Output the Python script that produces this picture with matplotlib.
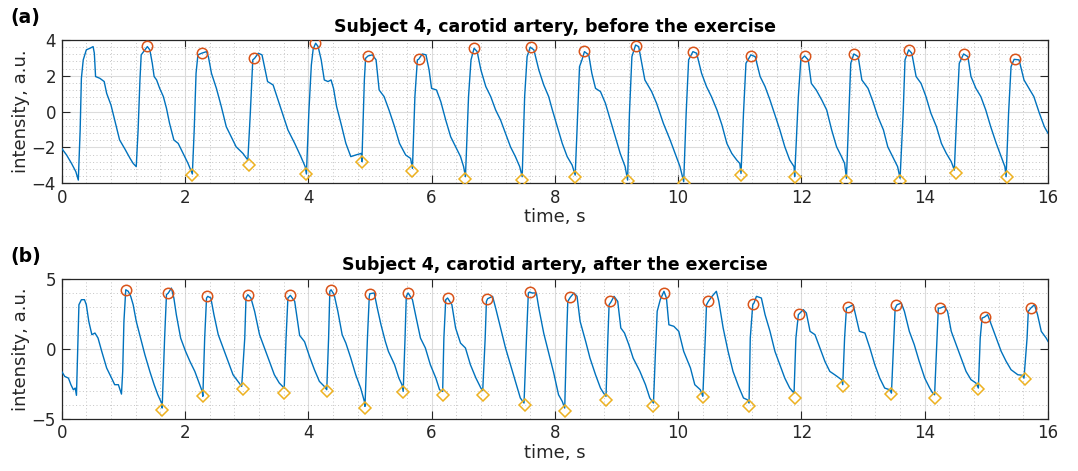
import matplotlib
matplotlib.use("Agg")
import matplotlib.pyplot as plt
from matplotlib.ticker import MultipleLocator

# ---------------- data ----------------
top_t = [0, 0.08, 0.16, 0.23, 0.27, 0.30, 0.32, 0.35, 0.40, 0.46, 0.51, 0.53, 0.55, 0.62, 0.69, 0.73, 0.80, 0.86, 0.94, 1.02, 1.11, 1.16, 1.21,
         1.24, 1.27, 1.29, 1.35, 1.39, 1.43, 1.47, 1.50, 1.54, 1.59, 1.65, 1.70, 1.75, 1.82, 1.89, 1.97, 2.05, 2.12,
         2.15, 2.18, 2.21, 2.27, 2.35, 2.38, 2.43, 2.51, 2.59, 2.67, 2.75, 2.83, 2.94, 3.02,
         3.06, 3.10, 3.13, 3.19, 3.25, 3.29, 3.34, 3.43, 3.51, 3.59, 3.67, 3.78, 3.88, 3.95, 3.97,
         4.01, 4.05, 4.08, 4.12, 4.16, 4.21, 4.26, 4.32, 4.37, 4.41, 4.46, 4.53, 4.61, 4.69, 4.77, 4.86, 4.87,
         4.91, 4.93, 4.97, 5.04, 5.10, 5.15, 5.23, 5.31, 5.40, 5.48, 5.58, 5.66, 5.69,
         5.73, 5.77, 5.79, 5.85, 5.91, 5.96, 6.00, 6.08, 6.15, 6.23, 6.31, 6.39, 6.47, 6.52, 6.55,
         6.60, 6.64, 6.69, 6.74, 6.80, 6.88, 6.96, 7.04, 7.12, 7.20, 7.28, 7.36, 7.43, 7.47,
         7.51, 7.55, 7.60, 7.66, 7.74, 7.82, 7.90, 7.96, 8.04, 8.12, 8.20, 8.28, 8.33,
         8.36, 8.40, 8.44, 8.48, 8.55, 8.60, 8.66, 8.74, 8.82, 8.90, 8.98, 9.06, 9.14, 9.18,
         9.21, 9.25, 9.31, 9.36, 9.42, 9.46, 9.57, 9.65, 9.76, 9.87, 9.95, 10.03, 10.09,
         10.13, 10.17, 10.24, 10.30, 10.38, 10.46, 10.54, 10.63, 10.71, 10.79, 10.87, 10.95, 11.00, 11.02,
         11.06, 11.10, 11.18, 11.25, 11.33, 11.41, 11.49, 11.57, 11.65, 11.73, 11.81, 11.88, 11.89,
         11.95, 11.99, 12.05, 12.11, 12.16, 12.24, 12.33, 12.41, 12.49, 12.57, 12.65, 12.70, 12.73,
         12.77, 12.80, 12.85, 12.92, 12.98, 13.08, 13.16, 13.24, 13.33, 13.40, 13.48, 13.56, 13.60,
         13.65, 13.68, 13.74, 13.79, 13.86, 13.94, 14.02, 14.10, 14.19, 14.27, 14.35, 14.43, 14.48,
         14.52, 14.56, 14.63, 14.70, 14.75, 14.83, 14.91, 14.99, 15.07, 15.16, 15.24, 15.30, 15.32,
         15.36, 15.40, 15.45, 15.53, 15.61, 15.69, 15.77, 15.86, 15.94, 16.0]
top_v = [-2.05, -2.42, -2.89, -3.35, -3.82, -1.02, 1.86, 2.89, 3.45, 3.54, 3.63, 3.26, 1.96, 1.86, 1.68, 1.02, 0.37, -0.47, -1.58, -2.05, -2.61, -2.89, -3.07,
         -1.02, 1.77, 3.17, 3.45, 3.63, 3.45, 2.70, 1.96, 1.77, 1.30, 0.84, 0.19, -0.65, -1.58, -1.77, -2.33, -2.89, -3.48,
         -1.02, 2.14, 3.17, 3.26, 3.35, 3.07, 2.14, 1.30, 0.28, -0.84, -1.40, -1.96, -2.33, -2.70,
         -0.09, 2.89, 2.98, 3.26, 3.17, 2.51, 1.68, 1.49, 0.65, -0.19, -1.02, -1.77, -2.51, -3.07, -3.48,
         0.0, 2.6, 3.5, 3.82, 3.63, 2.89, 1.77, 1.68, 1.77, 1.30, 0.28, -0.65, -1.77, -2.51, -2.42, -2.33, -2.79,
         1.77, 2.98, 3.11, 3.17, 2.89, 1.21, 0.84, 0.09, -0.84, -1.77, -2.42, -2.61, -3.17,
         0.84, 2.89, 2.92, 3.22, 3.17, 2.33, 1.30, 1.21, 0.56, -0.47, -1.40, -1.96, -2.51, -3.07, -3.63,
         0.84, 2.89, 3.54, 3.35, 2.33, 1.40, 0.84, 0.09, -0.47, -1.21, -1.96, -2.51, -3.07, -3.63,
         0.84, 3.07, 3.60, 3.45, 2.33, 1.49, 0.84, 0.09, -0.84, -1.77, -2.51, -2.98, -3.54,
         -1.02, 2.51, 2.89, 3.35, 3.17, 2.14, 1.30, 1.12, 0.47, -0.47, -1.40, -2.33, -3.07, -3.82,
         -0.09, 3.07, 3.72, 3.63, 2.51, 1.77, 1.12, 0.47, -0.65, -1.58, -2.33, -3.07, -3.91,
         -0.09, 2.89, 3.35, 3.26, 2.14, 1.40, 0.84, 0.09, -0.74, -1.77, -2.33, -2.70, -2.89, -3.45,
         -0.09, 2.70, 3.17, 3.07, 1.96, 1.40, 0.65, -0.19, -1.02, -1.96, -2.70, -3.07, -3.63,
         0.84, 2.89, 3.11, 2.89, 1.58, 1.21, 0.65, 0.09, -1.02, -1.96, -2.51, -2.89, -3.72,
         -0.09, 2.70, 3.22, 3.07, 1.77, 1.30, 0.56, -0.28, -1.02, -1.96, -2.51, -3.07, -3.72,
         -0.09, 2.89, 3.45, 3.26, 1.96, 1.58, 0.84, -0.09, -0.84, -1.77, -2.33, -2.79, -3.26,
         -0.09, 2.70, 3.22, 3.07, 1.96, 1.30, 0.84, 0.09, -0.84, -1.77, -2.51, -3.07, -3.63,
         -0.09, 2.51, 2.92, 2.89, 1.77, 1.30, 0.84, -0.09, -0.84, -1.21]

top_peak_t = [1.39, 2.27, 3.12, 4.11, 4.97, 5.79, 6.69, 7.61, 8.48, 9.32, 10.24, 11.18, 12.05, 12.85, 13.74, 14.63, 15.47]
top_peak_v = [3.67, 3.30, 2.98, 3.85, 3.11, 2.92, 3.54, 3.60, 3.39, 3.69, 3.35, 3.11, 3.11, 3.22, 3.45, 3.22, 2.92]
top_trough_t = [2.12, 3.04, 3.97, 4.87, 5.69, 6.55, 7.47, 8.33, 9.18, 10.09, 11.02, 11.89, 12.73, 13.60, 14.50, 15.33]
top_trough_v = [-3.54, -2.98, -3.48, -2.79, -3.30, -3.76, -3.82, -3.63, -3.85, -3.97, -3.54, -3.63, -3.85, -3.85, -3.45, -3.67]

bot_t = [0, 0.05, 0.11, 0.15, 0.19, 0.22, 0.24, 0.26, 0.28, 0.32, 0.37, 0.40, 0.44, 0.49, 0.54, 0.59, 0.65, 0.73, 0.81, 0.86, 0.92, 0.97,
         0.99, 1.01, 1.04, 1.08, 1.12, 1.16, 1.21, 1.28, 1.35, 1.43, 1.50, 1.56, 1.62, 1.63,
         1.67, 1.70, 1.73, 1.78, 1.82, 1.86, 1.93, 2.01, 2.08, 2.16, 2.22, 2.28, 2.29,
         2.32, 2.35, 2.37, 2.42, 2.47, 2.54, 2.62, 2.70, 2.78, 2.86, 2.92,
         2.97, 2.99, 3.02, 3.07, 3.13, 3.21, 3.29, 3.37, 3.45, 3.53, 3.61,
         3.64, 3.67, 3.71, 3.78, 3.86, 3.94, 4.02, 4.10, 4.18, 4.26, 4.30,
         4.33, 4.35, 4.37, 4.42, 4.48, 4.55, 4.61, 4.69, 4.77, 4.85, 4.91, 4.92,
         4.96, 4.99, 5.00, 5.07, 5.12, 5.18, 5.25, 5.30, 5.40, 5.47, 5.52, 5.54,
         5.57, 5.59, 5.62, 5.69, 5.74, 5.82, 5.90, 5.98, 6.07, 6.13, 6.18,
         6.20, 6.23, 6.26, 6.33, 6.39, 6.47, 6.55, 6.63, 6.72, 6.80, 6.83,
         6.87, 6.89, 6.91, 6.99, 7.04, 7.12, 7.20, 7.28, 7.36, 7.44, 7.50,
         7.54, 7.57, 7.59, 7.63, 7.70, 7.74, 7.82, 7.90, 7.98, 8.06, 8.12, 8.16,
         8.19, 8.21, 8.25, 8.31, 8.36, 8.41, 8.50, 8.57, 8.66, 8.74, 8.79, 8.83,
         8.86, 8.88, 8.91, 8.96, 9.02, 9.07, 9.13, 9.20, 9.27, 9.38, 9.47, 9.54, 9.60,
         9.63, 9.66, 9.71, 9.77, 9.81, 9.85, 9.93, 10.01, 10.09, 10.20, 10.27, 10.36, 10.40,
         10.44, 10.46, 10.49, 10.55, 10.62, 10.66, 10.73, 10.81, 10.89, 10.98, 11.06, 11.12, 11.15,
         11.17, 11.21, 11.23, 11.27, 11.35, 11.41, 11.49, 11.57, 11.65, 11.73, 11.81, 11.88,
         11.91, 11.95, 12.03, 12.08, 12.14, 12.22, 12.30, 12.38, 12.46, 12.54, 12.65, 12.67,
         12.70, 12.73, 12.76, 12.84, 12.89, 12.94, 13.03, 13.11, 13.19, 13.27, 13.35, 13.43, 13.46,
         13.50, 13.52, 13.55, 13.62, 13.67, 13.75, 13.83, 13.91, 14.00, 14.08, 14.13, 14.16,
         14.20, 14.22, 14.25, 14.32, 14.37, 14.43, 14.51, 14.59, 14.67, 14.75, 14.83, 14.87,
         14.90, 14.93, 14.97, 15.02, 15.08, 15.16, 15.24, 15.32, 15.40, 15.51, 15.59, 15.61,
         15.66, 15.68, 15.72, 15.78, 15.83, 15.89, 15.97, 16.0]
bot_v = [-1.62, -1.98, -2.10, -2.57, -2.93, -2.81, -3.33, 0.05, 3.14, 3.50, 3.50, 3.14, 1.95, 1.00, 1.12, 0.76, -0.19, -1.38, -2.10, -2.57, -2.57, -3.24,
         -1.62, 1.95, 4.21, 4.10, 3.74, 3.14, 1.95, 0.76, -0.43, -1.62, -2.57, -3.29, -3.88, -4.24,
         0.76, 3.86, 3.98, 4.33, 3.62, 2.43, 0.76, -0.19, -0.90, -1.62, -2.33, -3.05, -3.40,
         0.76, 3.62, 3.74, 3.62, 2.43, 1.00, 0.05, -0.90, -1.86, -2.33, -2.69,
         0.76, 3.62, 3.86, 3.62, 2.67, 1.00, 0.05, -0.90, -1.86, -2.45, -2.81,
         0.76, 3.62, 3.81, 3.38, 0.95, 0.50, -0.55, -1.50, -2.33, -2.69, -2.93,
         0.76, 4.10, 4.21, 3.86, 2.67, 1.00, 0.40, -0.67, -1.86, -2.81, -3.76, -4.12,
         0.76, 3.74, 3.93, 3.98, 2.90, 1.71, 0.52, -0.19, -1.14, -2.10, -2.57, -3.05,
         0.76, 3.74, 3.98, 3.50, 2.43, 0.76, 0.05, -1.14, -2.10, -2.93, -3.05,
         0.76, 3.50, 3.62, 3.14, 1.48, 0.40, 0.05, -1.14, -2.10, -2.81, -3.00,
         0.76, 3.38, 3.57, 3.74, 2.90, 1.48, 0.05, -1.14, -2.33, -3.52, -3.88,
         0.76, 3.98, 4.05, 3.98, 3.98, 2.90, 1.10, -0.30, -1.70, -3.29, -3.76, -4.24,
         0.76, 3.38, 3.67, 3.98, 3.74, 1.95, 0.52, -0.67, -1.86, -2.81, -3.17, -3.40,
         0.76, 3.14, 3.33, 3.74, 3.38, 1.48, 1.12, 0.29, -0.67, -1.62, -2.57, -3.52, -3.88,
         -0.43, 2.67, 3.50, 4.10, 3.62, 1.71, 1.60, 1.24, -0.19, -1.38, -2.57, -2.93, -3.40,
         0.76, 3.14, 3.38, 3.74, 4.10, 3.38, 1.48, -0.19, -1.62, -2.69, -3.52, -3.64, -3.88,
         0.76, 3.14, 3.26, 3.74, 3.62, 2.43, 1.24, -0.19, -1.14, -2.10, -2.81, -3.17,
         0.76, 2.43, 2.79, 2.55, 1.24, 1.00, 0.05, -0.90, -1.62, -1.86, -2.21, -2.57,
         0.76, 2.90, 2.95, 3.14, 2.19, 1.24, 1.12, 0.05, -1.14, -2.10, -2.81, -2.93, -3.17,
         0.76, 2.90, 3.14, 3.26, 2.67, 1.24, 0.29, -0.90, -2.10, -2.81, -3.17, -3.29,
         0.76, 2.90, 2.90, 3.02, 2.67, 1.24, 0.29, -0.67, -1.62, -2.21, -2.45, -2.81,
         0.76, 2.19, 2.26, 2.43, 1.71, 0.76, -0.19, -0.90, -1.50, -1.86, -1.90, -2.10,
         0.76, 2.67, 2.90, 3.14, 2.43, 1.24, 0.76, 0.52]

bot_peak_t = [1.05, 1.72, 2.36, 3.02, 3.71, 4.37, 5.00, 5.62, 6.26, 6.90, 7.59, 8.24, 8.90, 9.77, 10.49, 11.22, 11.96, 12.76, 13.54, 14.25, 14.97, 15.72]
bot_peak_v = [4.21, 3.98, 3.79, 3.86, 3.81, 4.21, 3.93, 3.98, 3.62, 3.57, 4.02, 3.67, 3.38, 3.98, 3.43, 3.21, 2.45, 2.95, 3.14, 2.90, 2.26, 2.90]
bot_trough_t = [1.63, 2.29, 2.94, 3.61, 4.30, 4.92, 5.54, 6.18, 6.83, 7.51, 8.16, 8.83, 9.60, 10.41, 11.15, 11.89, 12.68, 13.46, 14.16, 14.87, 15.62]
bot_trough_v = [-4.36, -3.40, -2.86, -3.17, -3.00, -4.24, -3.10, -3.33, -3.29, -4.05, -4.48, -3.64, -4.12, -3.48, -4.12, -3.52, -2.69, -3.24, -3.52, -2.86, -2.14]

titles = ["Subject 4, carotid artery, before the exercise",
          "Subject 4, carotid artery, after the exercise"]
panel_labels = ["(a)", "(b)"]
ylims = [(-4, 4), (-5, 5)]
yticks = [[-4, -2, 0, 2, 4], [-5, 0, 5]]
yminor = [0.4, 1.0]
xticks = [0, 2, 4, 6, 8, 10, 12, 14, 16]

# ---------------- style ----------------
plt.rcParams['font.family'] = ['DejaVu Sans']
LINE = '#0072BD'
PEAK = '#D95319'
TROUGH = '#EDB120'
DARK = '#262626'

fig = plt.figure(figsize=(10.78, 4.71), dpi=100)
left, right = 0.0572, 0.9722
ax1 = fig.add_axes([left, 0.6108, right - left, 0.9151 - 0.6108])
ax2 = fig.add_axes([left, 0.1110, right - left, 0.4083 - 0.1110])

series = [(top_t, top_v, top_peak_t, top_peak_v, top_trough_t, top_trough_v),
          (bot_t, bot_v, bot_peak_t, bot_peak_v, bot_trough_t, bot_trough_v)]

for i, ax in enumerate([ax1, ax2]):
    t, v, pt, pv, tt, tv = series[i]
    ax.plot(t, v, color=LINE, lw=1.0, zorder=3)
    ax.plot(pt, pv, 'o', ms=7.5, mfc='none', mec=PEAK, mew=1.1, zorder=4)
    ax.plot(tt, tv, 'D', ms=6.3, mfc='none', mec=TROUGH, mew=1.1, zorder=4)
    ax.set_xlim(0, 16)
    ax.set_ylim(*ylims[i])
    ax.set_xticks(xticks)
    ax.set_yticks(yticks[i])
    ax.xaxis.set_minor_locator(MultipleLocator(0.4))
    ax.yaxis.set_minor_locator(MultipleLocator(yminor[i]))
    ax.grid(True, which='major', color='#dcdcdc', lw=0.8, ls='-', zorder=0)
    ax.grid(True, which='minor', color='#c4c4c4', lw=0.7, ls=(0, (1, 2.5)), zorder=0)
    ax.set_axisbelow(True)
    ax.tick_params(which='major', direction='in', length=6, width=0.8, color=DARK,
                   top=True, right=True, labelsize=12, labelcolor=DARK, pad=4)
    ax.tick_params(which='minor', length=0, top=True, right=True)
    for s in ax.spines.values():
        s.set_color(DARK)
        s.set_linewidth(0.9)
    ax.set_xlabel('time, s', fontsize=13, color=DARK, labelpad=1)
    ax.set_ylabel('intensity, a.u.', fontsize=13, color=DARK, labelpad=1)
    ax.set_title(titles[i], fontsize=12.5, fontweight='bold', pad=6)
    ax.text(-0.052, 1.16, panel_labels[i], transform=ax.transAxes, fontsize=13.5,
            fontweight='bold', ha='left', va='center')

fig.savefig('out.png', dpi=100)
